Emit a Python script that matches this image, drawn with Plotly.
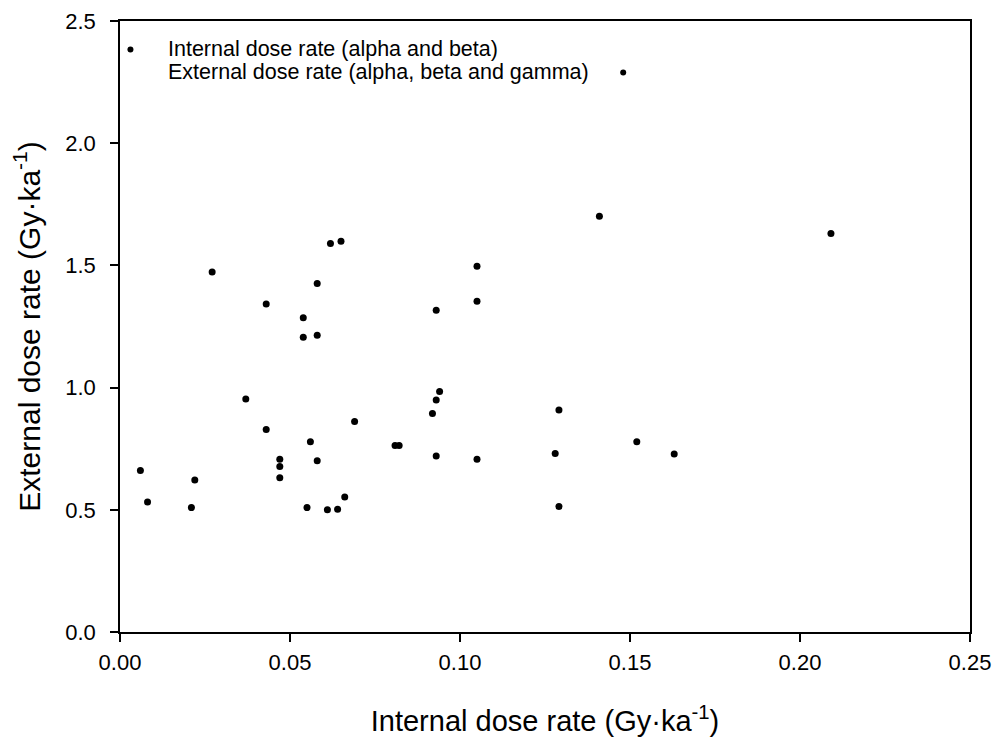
import plotly.graph_objects as go

# Internal dose rate (Gy/ka) vs external dose rate (Gy/ka)
internal_dose = [0.0060, 0.0081, 0.0210, 0.0220, 0.0271, 0.0370, 0.0430, 0.0430,
                 0.0470, 0.0470, 0.0470, 0.0539, 0.0539, 0.0550, 0.0560, 0.0580,
                 0.0580, 0.0580, 0.0610, 0.0619, 0.0640, 0.0650, 0.0661, 0.0690,
                 0.0809, 0.0821, 0.0919, 0.0930, 0.0930, 0.0930, 0.0940, 0.1050,
                 0.1050, 0.1050, 0.1280, 0.1291, 0.1291, 0.1410, 0.1520, 0.1630,
                 0.2091]
external_dose = [0.661, 0.532, 0.509, 0.622, 1.473, 0.953, 1.342, 0.829,
                 0.707, 0.677, 0.631, 1.286, 1.206, 0.509, 0.778, 1.426,
                 1.214, 0.701, 0.500, 1.590, 0.502, 1.599, 0.552, 0.861,
                 0.763, 0.763, 0.894, 1.316, 0.949, 0.720, 0.984, 1.497,
                 1.353, 0.707, 0.730, 0.908, 0.513, 1.701, 0.778, 0.728,
                 1.631]

x_ticks = [0.00, 0.05, 0.10, 0.15, 0.20, 0.25]
x_tick_labels = ["0.00", "0.05", "0.10", "0.15", "0.20", "0.25"]
y_ticks = [0.0, 0.5, 1.0, 1.5, 2.0, 2.5]
y_tick_labels = ["0.0", "0.5", "1.0", "1.5", "2.0", "2.5"]

legend_labels = ["Internal dose rate (alpha and beta)",
                 "External dose rate (alpha, beta and gamma)"]

FONT = "Liberation Sans, Arial, sans-serif"

fig = go.Figure()
fig.add_trace(go.Scatter(
    x=internal_dose, y=external_dose, mode="markers",
    marker=dict(color="black", size=7, line=dict(width=0)),
    showlegend=False, hoverinfo="x+y"))

axis_common = dict(
    showgrid=False, zeroline=False, showline=True, linecolor="black",
    linewidth=1.5, mirror=True, ticks="outside", ticklen=8, tickwidth=1.5,
    tickcolor="black", tickfont=dict(family=FONT, size=22, color="black"),
)

fig.update_layout(
    width=996, height=737,
    margin=dict(l=119.5, r=26, t=20.5, b=104.5, autoexpand=False),
    plot_bgcolor="white", paper_bgcolor="white",
    font=dict(family=FONT, color="black"),
    xaxis=dict(range=[0, 0.25], tickvals=x_ticks, ticktext=x_tick_labels,
               ticklabelstandoff=2,
               title=dict(text="Internal dose rate (Gy·ka<sup>-1</sup>)",
                          font=dict(family=FONT, size=29), standoff=37),
               **axis_common),
    yaxis=dict(range=[0, 2.5], tickvals=y_ticks, ticktext=y_tick_labels,
               ticklabelstandoff=10,
               title=dict(text="External dose rate (Gy·ka<sup>-1</sup>)",
                          font=dict(family=FONT, size=30), standoff=16),
               **axis_common),
)

# Legend box (SigmaPlot-style: second symbol placed after its text)
legend_dots = [(0.0123, 0.9534), (0.5920, 0.9158)]
for (px, py) in legend_dots:
    fig.add_shape(type="circle", xref="paper", yref="paper",
                  xsizemode="pixel", ysizemode="pixel",
                  xanchor=px, yanchor=py, x0=-3, x1=3, y0=-3, y1=3,
                  fillcolor="black", line=dict(width=0))
fig.add_annotation(xref="paper", yref="paper", x=0.0547, y=0.9534,
                   text=legend_labels[0], showarrow=False, xanchor="left",
                   yanchor="middle", font=dict(family=FONT, size=21.5))
fig.add_annotation(xref="paper", yref="paper", x=0.0547, y=0.9158,
                   text=legend_labels[1], showarrow=False, xanchor="left",
                   yanchor="middle", font=dict(family=FONT, size=21.5))

fig.write_html("out.html")
